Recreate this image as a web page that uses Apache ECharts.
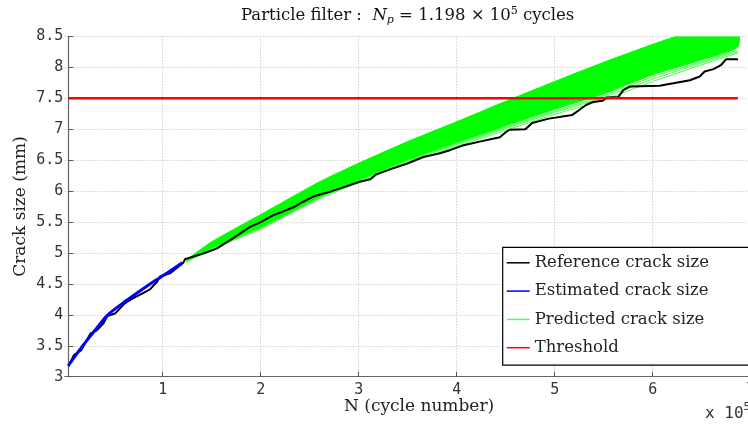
<!DOCTYPE html>
<html><head><meta charset="utf-8">
<script src="https://cdn.jsdelivr.net/npm/echarts@6/dist/echarts.min.js"></script>
<style>html,body{margin:0;padding:0;background:#fff}#c{width:748px;height:424px}</style>
</head><body><div id="c"></div>
<script>
// x values are in units of 10^5 cycles
const refN = [0.037,0.095,0.139,0.17,0.224,0.265,0.327,0.394,0.435,0.513,0.615,0.70,0.80,0.87,0.94,0.972,1.074,1.21,1.228,1.414,1.55,1.72,1.89,1.99,2.13,2.23,2.35,2.40,2.55,2.71,2.88,3.01,3.12,3.18,3.32,3.49,3.66,3.83,3.93,4.07,4.27,4.44,4.50,4.54,4.70,4.77,4.94,5.18,5.25,5.32,5.39,5.49,5.53,5.65,5.70,5.77,6.07,6.21,6.38,6.48,6.53,6.62,6.70,6.75,6.87];
const refA = [3.17,3.35,3.40,3.43,3.59,3.70,3.75,3.86,3.98,4.02,4.19,4.27,4.35,4.41,4.53,4.62,4.67,4.84,4.90,4.99,5.07,5.24,5.42,5.49,5.61,5.67,5.75,5.80,5.92,5.99,6.08,6.15,6.19,6.27,6.35,6.44,6.55,6.61,6.66,6.74,6.81,6.87,6.95,6.99,7.00,7.10,7.17,7.23,7.31,7.39,7.44,7.46,7.51,7.52,7.63,7.69,7.70,7.74,7.79,7.85,7.93,7.97,8.04,8.13,8.13];

const estN = [0.037,0.17,0.30,0.44,0.63,0.80,0.92,1.05,1.20];
const estA = [3.18,3.47,3.73,4.00,4.23,4.42,4.55,4.68,4.84];

const predN      = [1.245,1.5,2.0,2.6,3.0,3.5,4.0,4.44,5.0,5.5,6.0,6.5,6.87];
const predTop    = [4.89,5.18,5.62,6.15,6.45,6.80,7.12,7.41,7.77,8.08,8.37,8.64,8.84];
const predBottom = [4.86,5.07,5.40,5.90,6.17,6.50,6.78,7.02,7.32,7.57,7.88,8.12,8.33];
const predLow1   = [4.86,5.06,5.39,5.88,6.14,6.46,6.72,6.95,7.24,7.47,7.77,8.04,8.23];
const predLow2   = [4.86,5.06,5.39,5.89,6.15,6.48,6.75,6.98,7.27,7.51,7.81,8.07,8.25];
const predLow3   = [4.86,5.07,5.40,5.89,6.16,6.49,6.76,7.00,7.29,7.54,7.85,8.09,8.28];

const thrN = [0.037,6.87];
const thrA = [7.5,7.5];

const xTicks = [0,1,2,3,4,5,6,7];
const yTicks = [3,3.5,4,4.5,5,5.5,6,6.5,7,7.5,8,8.5];

const zip = (a,b) => a.map((v,i)=>[v,b[i]]);
const SERIF = 'DejaVu Serif';
const MONO = 'DejaVu Sans Mono';

const chart = echarts.init(document.getElementById('c'), null, {renderer:'canvas'});
const lowLine = (d) => ({
  type:'line', name:'Predicted crack size', data: zip(predN,d), symbol:'none', z:2,
  lineStyle:{color:'#44ff44', width:1}, itemStyle:{color:'#55ff55'}, silent:true
});
const bandData = [[0]];
chart.setOption({
  animation:false,
  backgroundColor:'#fff',
  title:[
    {text:'{a|Particle filter :  }{i|N}{s|p}{a| = 1.198 × 10}{u|5}{a| cycles}', left:236, top:1,
     textStyle:{fontWeight:'normal', rich:{
       a:{fontFamily:SERIF,fontWeight:'normal',fontSize:16.5,color:'#111',lineHeight:20,verticalAlign:'middle'},
       i:{fontFamily:SERIF,fontWeight:'normal',fontStyle:'italic',fontSize:16.5,color:'#111',lineHeight:20,verticalAlign:'middle'},
       s:{fontFamily:SERIF,fontWeight:'normal',fontStyle:'italic',fontSize:11,color:'#111',lineHeight:20,verticalAlign:'bottom'},
       u:{fontFamily:SERIF,fontWeight:'normal',fontSize:11,color:'#111',lineHeight:20,verticalAlign:'top'}
     }}},
    {text:'N (cycle number)', left:339, top:393, textStyle:{fontFamily:SERIF,fontSize:17,fontWeight:'normal',color:'#222'}},
    {text:'{a|x 10}{u|5}', left:700, top:397,
     textStyle:{fontWeight:'normal', rich:{a:{fontFamily:MONO,fontWeight:'normal',fontSize:16,color:'#333',lineHeight:20,verticalAlign:'bottom'},
                      u:{fontFamily:MONO,fontWeight:'normal',fontSize:11,color:'#333',lineHeight:20,verticalAlign:'top'}}}}
  ],
  legend:{
    orient:'vertical', left:502.7, top:247.3, icon:'rect',
    padding:[7,60,9,4], itemGap:11.3, itemWidth:23, itemHeight:1.5,
    backgroundColor:'#fff', borderColor:'#000', borderWidth:1.2, borderRadius:0,
    textStyle:{fontFamily:SERIF,fontSize:16.5,color:'#222',lineHeight:17},
    selectedMode:false,
    data:['Reference crack size','Estimated crack size','Predicted crack size','Threshold']
  },
  grid:{left:64.7, right:-2.7, top:36.3, bottom:47.3, containLabel:false, outerBoundsMode:'none'},
  xAxis:{
    type:'value', min:xTicks[0], max:xTicks[xTicks.length-1], interval:1,
    axisLine:{show:true, lineStyle:{color:'#666', width:1.2}},
    axisTick:{show:true, inside:true, length:5, lineStyle:{color:'#555'}},
    axisLabel:{showMinLabel:false, margin:6, fontFamily:MONO, fontSize:15, color:'#333',
      formatter:(v)=> xTicks.includes(v) && v!==0 ? String(v) : ''},
    splitLine:{show:true, showMinLine:false, lineStyle:{color:'#bbb', type:[1,2], width:1}}
  },
  yAxis:{
    type:'value', min:yTicks[0], max:yTicks[yTicks.length-1], interval:0.5, offset:-3.6,
    name:'Crack size (mm)', nameLocation:'middle', nameGap:39, nameRotate:90, nameMoveOverlap:false,
    nameTextStyle:{fontFamily:SERIF,fontSize:17,color:'#222'},
    axisLine:{show:true, lineStyle:{color:'#666', width:1.2}},
    axisTick:{show:true, inside:true, length:5, lineStyle:{color:'#555'}},
    axisLabel:{margin:5, fontFamily:MONO, fontSize:15, color:'#333', formatter:(v)=>String(v)},
    splitLine:{show:true, lineStyle:{color:'#bbb', type:[1,2], width:1}}
  },
  series:[
    {type:'custom', name:'_band', data: bandData, z:1, clip:true, silent:true,
     renderItem:(params, api) => {
       const pts = [];
       predN.forEach((n,i)=>pts.push(api.coord([n, predTop[i]])));
       for (let i=predN.length-1;i>=0;i--) pts.push(api.coord([predN[i], predBottom[i]]));
       const cs = params.coordSys;
       return {type:'polygon', shape:{points:pts, smooth:0.15}, style:{fill:'#00ff00', stroke:'#00ff00', lineWidth:1},
         clipPath:{type:'rect', shape:{x:cs.x, y:cs.y, width:cs.width, height:cs.height}}};
     }},
    lowLine(predLow1), lowLine(predLow2), lowLine(predLow3),
    {type:'line', name:'Reference crack size', data: zip(refN,refA), symbol:'none', z:3,
     itemStyle:{color:'#000'}, lineStyle:{color:'#000', width:2}, silent:true},
    {type:'line', name:'Estimated crack size', data: zip(estN,estA), symbol:'none', z:4, smooth:0.3,
     itemStyle:{color:'#0000ff'}, lineStyle:{color:'#0000ff', width:3}, silent:true},
    {type:'line', name:'Threshold', data: zip(thrN,thrA), symbol:'none', z:5,
     itemStyle:{color:'#ff0000'}, lineStyle:{color:'#ff0000', width:2.5}, silent:true}
  ]
});
</script></body></html>
